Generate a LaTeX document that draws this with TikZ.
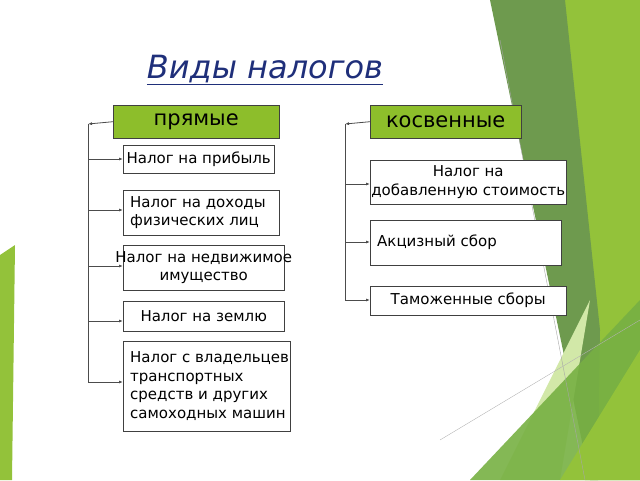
\documentclass[tikz,border=0pt]{standalone}
\usepackage{fontspec}
\setmainfont{DejaVu Sans}
\usetikzlibrary{arrows.meta}
\definecolor{hdr}{HTML}{8DBE2B}
\definecolor{dk}{HTML}{6E9A4E}
\definecolor{lg}{HTML}{93C23A}
\definecolor{pg}{HTML}{D2E8A8}
\definecolor{mg}{HTML}{77B043}
\definecolor{ttl}{HTML}{1F2F7A}
\tikzset{
 box/.style={draw=black!75,fill=white,inner sep=0pt,anchor=north west},
 txt/.style={inner sep=0pt,font=\fontsize{15}{18.5}\selectfont},
 hbox/.style={draw=black!75,fill=hdr,font=\fontsize{21}{24}\selectfont,anchor=north west,minimum height=33pt},
 conn/.style={draw=black!70,line width=0.8pt},
 arr/.style={conn,-{Latex[length=4pt,width=3pt]}}
}
\begin{document}
\begin{tikzpicture}[x=1pt,y=-1pt]
\useasboundingbox (0,0) rectangle (640,480);
% decoration
\fill[lg] (560,0) -- (640,0) -- (640,480) -- (585,480) -- cycle;
\fill[dk] (490,0) -- (565,0) -- (600,330) -- (598,480) -- (590,480) -- cycle;
\fill[pg] (590,300) -- (500,480) -- (560,480) -- cycle;
\fill[mg,opacity=0.9] (470,480) -- (640,300) -- (640,480) -- cycle;
\fill[lg] (560,480) -- (640,350) -- (640,480) -- cycle;
\fill[lg] (0,255) -- (15,245) -- (12,480) -- (0,480) -- cycle;
\draw[black!35] (500,40) -- (585,480);
\draw[black!30] (440,440) -- (640,320);
% title
\node[font=\fontsize{32}{36}\selectfont\itshape,text=ttl] (t) at (265,70) {\underline{Виды налогов}};
% headers
\node[hbox,minimum width=166pt] (p) at (113,105) {прямые};
\node[hbox,minimum width=151pt] (k) at (370,105) {косвенные};
% left boxes
\node[box,minimum width=151pt,minimum height=28pt] (b1) at (123,145) {};
\node[box,minimum width=156pt,minimum height=45pt] (b2) at (123,190) {};
\node[box,minimum width=161pt,minimum height=45pt] (b3) at (123,245) {};
\node[box,minimum width=161pt,minimum height=30pt] (b4) at (123,301) {};
\node[box,minimum width=167pt,minimum height=90pt] (b5) at (123,341) {};
\node[txt] (tb1) at (b1.center) {Налог на прибыль};
\node[txt,align=left,anchor=west] (tb2) at ([xshift=7pt]b2.west) {Налог на доходы\\физических лиц};
\node[txt,align=center] (tb3) at (b3.center) {Налог на недвижимое\\имущество};
\node[txt] (tb4) at (b4.center) {Налог на землю};
\node[txt,align=left,anchor=west] (tb5) at ([xshift=7pt]b5.west) {Налог с владельцев\\транспортных\\средств и других\\самоходных машин};
% right boxes
\node[box,minimum width=196pt,minimum height=44pt] (c1) at (370,160) {};
\node[box,minimum width=191pt,minimum height=45pt] (c2) at (370,220) {};
\node[box,minimum width=196pt,minimum height=29pt] (c3) at (370,286) {};
\node[txt,align=center] (tc1) at (c1.center) {Налог на\\добавленную стоимость};
\node[txt,anchor=west] (tc2) at ([xshift=7pt]c2.west) {Акцизный сбор};
\node[txt] (tc3) at (c3.center) {Таможенные сборы};
% connectors left
\coordinate (L0) at (88,124);
\coordinate (L5) at (88,382);
\draw[arr] (p.west) -- (L0);
\draw[conn] (L0) -- (L5);
\foreach \n/\y in {b1/159,b2/210,b3/266,b4/321,b5/382}{
 \draw[arr] (88,\y) -- (\n.west |- 0,\y);
}
% connectors right
\coordinate (R0) at (345,124);
\coordinate (R3) at (345,300);
\draw[arr] (k.west) -- (R0);
\draw[conn] (R0) -- (R3);
\foreach \n/\y in {c1/184,c2/242,c3/300}{
 \draw[arr] (345,\y) -- (\n.west |- 0,\y);
}
\end{tikzpicture}
\end{document}
